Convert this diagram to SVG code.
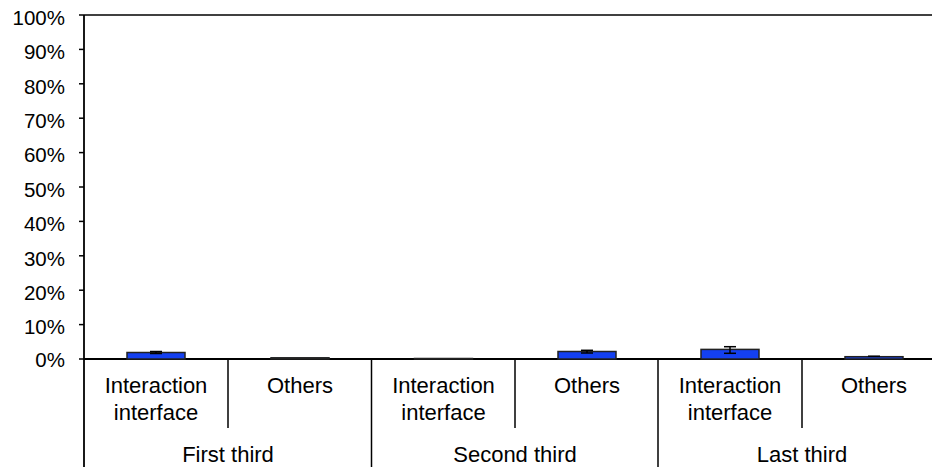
<svg xmlns="http://www.w3.org/2000/svg" width="932" height="467" viewBox="0 0 932 467">
<style>
.ax{stroke:#000;stroke-width:1.8;fill:none}
.tk{stroke:#000;stroke-width:1.5}
.yl{font-family:"Liberation Sans",Arial,sans-serif;font-size:20.5px;text-anchor:end;fill:#000}
.cl{font-family:"Liberation Sans",Arial,sans-serif;font-size:22px;text-anchor:middle;fill:#000}
.bar{fill:#1440f0;stroke:#222;stroke-width:1.5}
.eb{stroke:#000;stroke-width:1.5;fill:none}
</style>
<rect width="932" height="467" fill="#fff"/>
<g id="y-axis">
<line class="ax" x1="84" y1="15" x2="84" y2="467"/>
<line class="tk" x1="79" y1="15" x2="932" y2="15"/>
<g class="tk">
<line x1="79" y1="49.4" x2="84" y2="49.4"/>
<line x1="79" y1="83.8" x2="84" y2="83.8"/>
<line x1="79" y1="118.2" x2="84" y2="118.2"/>
<line x1="79" y1="152.6" x2="84" y2="152.6"/>
<line x1="79" y1="187" x2="84" y2="187"/>
<line x1="79" y1="221.4" x2="84" y2="221.4"/>
<line x1="79" y1="255.8" x2="84" y2="255.8"/>
<line x1="79" y1="290.2" x2="84" y2="290.2"/>
<line x1="79" y1="324.6" x2="84" y2="324.6"/>
<line x1="79" y1="359" x2="84" y2="359"/>
</g>
<text class="yl" x="65" y="25">100%</text>
<text class="yl" x="65" y="59">90%</text>
<text class="yl" x="65" y="93.5">80%</text>
<text class="yl" x="65" y="128">70%</text>
<text class="yl" x="65" y="162">60%</text>
<text class="yl" x="65" y="196.5">50%</text>
<text class="yl" x="65" y="231">40%</text>
<text class="yl" x="65" y="265.5">30%</text>
<text class="yl" x="65" y="300">20%</text>
<text class="yl" x="65" y="334">10%</text>
<text class="yl" x="65" y="367">0%</text>
</g>
<g id="x-axis">
<line class="ax" x1="84" y1="359" x2="932" y2="359"/>
<line class="tk" x1="228" y1="359" x2="228" y2="428"/>
<line class="tk" x1="515" y1="359" x2="515" y2="428"/>
<line class="tk" x1="802" y1="359" x2="802" y2="428"/>
<line class="tk" x1="371.5" y1="359" x2="371.5" y2="467"/>
<line class="tk" x1="658" y1="359" x2="658" y2="467"/>
</g>
<g id="bar-first-interaction">
<rect class="bar" x="127" y="352.5" width="58" height="6.5"/>
<line class="eb" x1="156" y1="351.5" x2="156" y2="353.5"/>
<line class="eb" x1="150" y1="351.5" x2="162" y2="351.5"/>
<line class="eb" x1="150" y1="353.5" x2="162" y2="353.5"/>
</g>
<g id="bar-first-others">
<rect class="bar" x="271" y="357.8" width="58" height="1.2"/>
</g>
<g id="bar-second-interaction">
<rect class="bar" x="414.5" y="358.5" width="58" height="0.5"/>
</g>
<g id="bar-second-others">
<rect class="bar" x="558" y="351.5" width="58" height="7.5"/>
<line class="eb" x1="587" y1="350.3" x2="587" y2="353"/>
<line class="eb" x1="581" y1="350.3" x2="593" y2="350.3"/>
<line class="eb" x1="581" y1="353" x2="593" y2="353"/>
</g>
<g id="bar-last-interaction">
<rect class="bar" x="701" y="349.4" width="58" height="9.6"/>
<line class="eb" x1="730" y1="346.7" x2="730" y2="353.3"/>
<line class="eb" x1="724" y1="346.7" x2="736" y2="346.7"/>
<line class="eb" x1="724" y1="353.3" x2="736" y2="353.3"/>
</g>
<g id="bar-last-others">
<rect class="bar" x="845" y="356.7" width="58" height="2.3"/>
<line class="eb" x1="868" y1="356.2" x2="880" y2="356.2"/>
</g>
<g id="labels">
<text class="cl" x="156" y="393">Interaction</text>
<text class="cl" x="156" y="420">interface</text>
<text class="cl" x="300" y="393">Others</text>
<text class="cl" x="443.5" y="393">Interaction</text>
<text class="cl" x="443.5" y="420">interface</text>
<text class="cl" x="587" y="393">Others</text>
<text class="cl" x="730" y="393">Interaction</text>
<text class="cl" x="730" y="420">interface</text>
<text class="cl" x="874" y="393">Others</text>
<text class="cl" x="228" y="462">First third</text>
<text class="cl" x="515" y="462">Second third</text>
<text class="cl" x="802" y="462">Last third</text>
</g>
</svg>
